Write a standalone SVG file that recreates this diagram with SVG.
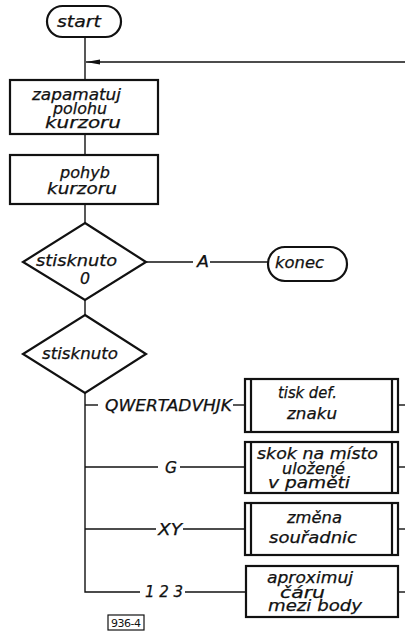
<svg xmlns="http://www.w3.org/2000/svg" width="405" height="633" viewBox="0 0 405 633">
<style>
  .shape { fill: #fff; stroke: #111; stroke-width: 2.2; }
  .line { fill: none; stroke: #111; stroke-width: 1.4; }
  text { font-family: "DejaVu Sans", "Liberation Sans", sans-serif; font-style: italic; font-size: 15px; fill: #111; stroke: #111; stroke-width: 0.25; }
  .small { font-size: 11px; font-style: normal; stroke-width: 0; }
</style>
<defs>
  <marker id="arr" viewBox="0 0 14 6" refX="14" refY="3" markerWidth="14" markerHeight="6" markerUnits="userSpaceOnUse" orient="auto">
    <path d="M0,0.6 L14,3 L0,5.4 Z" fill="#111"/>
  </marker>
</defs>
<rect width="405" height="633" fill="#fff"/>

<g id="connectors">
  <line class="line" x1="85" y1="37" x2="85" y2="80"/>
  <line class="line" x1="405" y1="62" x2="86" y2="62" marker-end="url(#arr)"/>
  <line class="line" x1="85" y1="134" x2="85" y2="155"/>
  <line class="line" x1="85" y1="204" x2="85" y2="223"/>
  <line class="line" x1="85" y1="300" x2="85" y2="315"/>
  <line class="line" x1="146" y1="262" x2="193" y2="262"/>
  <line class="line" x1="210" y1="262" x2="268" y2="262"/>
  <polyline class="line" points="85,393 85,592 140,592"/>
  <line class="line" x1="85" y1="405" x2="98" y2="405"/>
  <line class="line" x1="233" y1="405" x2="245" y2="405"/>
  <line class="line" x1="85" y1="467" x2="158" y2="467"/>
  <line class="line" x1="180" y1="467" x2="245" y2="467"/>
  <line class="line" x1="85" y1="529" x2="156" y2="529"/>
  <line class="line" x1="183" y1="529" x2="245" y2="529"/>
  <line class="line" x1="185" y1="592" x2="245" y2="592"/>
  <line class="line" x1="398" y1="405" x2="405" y2="405"/>
  <line class="line" x1="398" y1="467" x2="405" y2="467"/>
  <line class="line" x1="398" y1="529" x2="405" y2="529"/>
  <line class="line" x1="398" y1="592" x2="405" y2="592"/>
  <text x="197" y="267" textLength="12" lengthAdjust="spacingAndGlyphs">A</text>
  <text x="105" y="411" textLength="127" lengthAdjust="spacingAndGlyphs">QWERTADVHJK</text>
  <text x="165" y="473" textLength="12" lengthAdjust="spacingAndGlyphs">G</text>
  <text x="158" y="535" textLength="24" lengthAdjust="spacingAndGlyphs">XY</text>
  <text x="145" y="597" textLength="38">1 2 3</text>
</g>

<g id="start">
  <rect class="shape" x="47" y="6" width="74" height="31" rx="15.5"/>
  <text x="57" y="27" textLength="44" lengthAdjust="spacingAndGlyphs">start</text>
</g>

<g id="zapamatuj">
  <rect class="shape" x="10" y="80" width="148" height="54"/>
  <text x="32" y="100" textLength="89" lengthAdjust="spacingAndGlyphs">zapamatuj</text>
  <text x="53" y="114" textLength="54" lengthAdjust="spacingAndGlyphs">polohu</text>
  <text x="45" y="128" textLength="76" lengthAdjust="spacingAndGlyphs">kurzoru</text>
</g>

<g id="pohyb">
  <rect class="shape" x="10" y="155" width="148" height="49"/>
  <text x="60" y="178" textLength="50" lengthAdjust="spacingAndGlyphs">pohyb</text>
  <text x="47" y="194" textLength="70" lengthAdjust="spacingAndGlyphs">kurzoru</text>
</g>

<g id="stisknuto0">
  <polygon class="shape" points="85,223 146,262 85,300 23,262"/>
  <text x="36" y="266" textLength="81" lengthAdjust="spacingAndGlyphs">stisknuto</text>
  <text x="80" y="284" textLength="10" lengthAdjust="spacingAndGlyphs">0</text>
</g>

<g id="konec">
  <rect class="shape" x="268" y="247" width="79" height="34" rx="17"/>
  <text x="275" y="268" textLength="49" lengthAdjust="spacingAndGlyphs">konec</text>
</g>

<g id="stisknuto">
  <polygon class="shape" points="85,315 146,354 85,393 23,354"/>
  <text x="42" y="359" textLength="76" lengthAdjust="spacingAndGlyphs">stisknuto</text>
</g>

<g id="tisk">
  <rect class="shape" x="245" y="379" width="153" height="53"/>
  <line class="shape" x1="251" y1="379" x2="251" y2="432"/>
  <line class="shape" x1="392" y1="379" x2="392" y2="432"/>
  <text x="278" y="398" textLength="59" lengthAdjust="spacingAndGlyphs">tisk def.</text>
  <text x="287" y="419" textLength="50" lengthAdjust="spacingAndGlyphs">znaku</text>
</g>

<g id="skok">
  <rect class="shape" x="245" y="442" width="153" height="51"/>
  <line class="shape" x1="251" y1="442" x2="251" y2="493"/>
  <line class="shape" x1="392" y1="442" x2="392" y2="493"/>
  <text x="257" y="459" textLength="121" lengthAdjust="spacingAndGlyphs">skok na místo</text>
  <text x="282" y="474" textLength="63" lengthAdjust="spacingAndGlyphs">uložené</text>
  <text x="268" y="488" textLength="82" lengthAdjust="spacingAndGlyphs">v paměti</text>
</g>

<g id="zmena">
  <rect class="shape" x="245" y="503" width="153" height="52"/>
  <line class="shape" x1="251" y1="503" x2="251" y2="555"/>
  <line class="shape" x1="392" y1="503" x2="392" y2="555"/>
  <text x="287" y="523" textLength="55" lengthAdjust="spacingAndGlyphs">změna</text>
  <text x="269" y="543" textLength="88" lengthAdjust="spacingAndGlyphs">souřadnic</text>
</g>

<g id="aproximuj">
  <rect class="shape" x="246" y="566" width="152" height="51"/>
  <text x="267" y="583" textLength="86" lengthAdjust="spacingAndGlyphs">aproximuj</text>
  <text x="280" y="598" textLength="45" lengthAdjust="spacingAndGlyphs">čáru</text>
  <text x="268" y="611" textLength="94" lengthAdjust="spacingAndGlyphs">mezi  body</text>
</g>

<g id="label">
  <rect x="108" y="615" width="36" height="15" fill="#fff" stroke="#111" stroke-width="1.2"/>
  <text class="small" x="111" y="627" textLength="30">936-4</text>
</g>
</svg>
